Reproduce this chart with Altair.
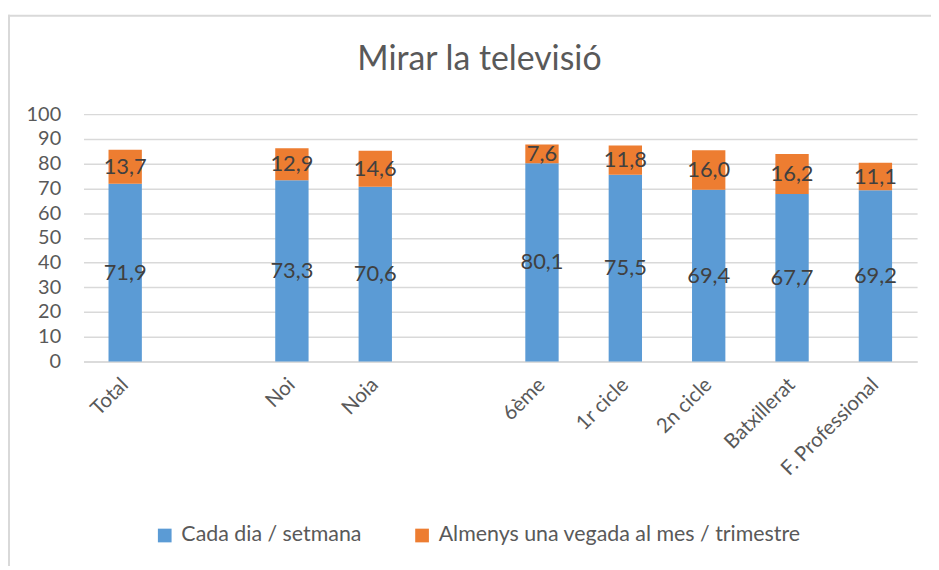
import altair as alt
import pandas as pd

categories = ["Total", "Noi", "Noia", "6ème", "1r cicle", "2n cicle", "Batxillerat", "F. Professional"]
domain = ["Total", " ", "Noi", "Noia", "  ", "6ème", "1r cicle", "2n cicle", "Batxillerat", "F. Professional"]
series = ["Cada dia / setmana", "Almenys una vegada al mes / trimestre"]
daily = [71.9, 73.3, 70.6, 80.1, 75.5, 69.4, 67.7, 69.2]
monthly = [13.7, 12.9, 14.6, 7.6, 11.8, 16.0, 16.2, 11.1]
colors = ["#5B9BD5", "#ED7D31"]

rows = []
for c, d, m in zip(categories, daily, monthly):
    rows.append({"cat": c, "serie": series[0], "val": d, "ord": 0})
    rows.append({"cat": c, "serie": series[1], "val": m, "ord": 1})
df = pd.DataFrame(rows)

FONT = "Lato"
GRAY = "#595959"

x_scale = alt.Scale(domain=domain, paddingInner=0.6, paddingOuter=0.3)
x_axis = alt.Axis(title=None, labelAngle=-45, labelAlign="right", labelBaseline="middle",
                  labelPadding=20, ticks=False, domainColor="#D9D9D9", domainWidth=1.5,
                  labelFont=FONT, labelFontSize=20.5, labelColor=GRAY, labelOverlap=False)
y_scale = alt.Scale(domain=[0, 100], nice=False)
y_axis = alt.Axis(title=None, values=list(range(0, 101, 10)), ticks=False, domain=False,
                  gridColor="#D9D9D9", gridWidth=1.5, labelPadding=23, labelOverlap=False,
                  labelFont=FONT, labelFontSize=20, labelColor=GRAY)

base = alt.Chart(df)

bars = base.mark_bar().encode(
    x=alt.X("cat:N", scale=x_scale, sort=domain, axis=x_axis),
    y=alt.Y("val:Q", stack="zero", scale=y_scale, axis=y_axis),
    color=alt.Color("serie:N", scale=alt.Scale(domain=series, range=colors),
                    legend=alt.Legend(title=None, orient="none", legendX=71, legendY=413,
                                      direction="horizontal", symbolType="square", symbolSize=190,
                                      symbolStrokeWidth=0, labelFont=FONT, labelFontSize=21.5,
                                      labelColor=GRAY, columnPadding=50, labelOffset=6, padding=0,
                                      labelLimit=600)),
    order=alt.Order("ord:Q"),
)

labels = base.transform_stack(
    stack="val", groupby=["cat"], as_=["v0", "v1"], sort=[alt.SortField("ord", order="ascending")]
).transform_calculate(
    mid="(datum.v0 + datum.v1) / 2",
    txt="replace(format(datum.val, '.1f'), '.', ',')",
).mark_text(font=FONT, fontSize=22, color="#404040", baseline="middle").encode(
    x=alt.X("cat:N", scale=x_scale, sort=domain, axis=x_axis),
    y=alt.Y("mid:Q", scale=y_scale, axis=y_axis),
    text="txt:N",
)

frame_df = pd.DataFrame({"a": [0]})
left_line = alt.Chart(frame_df).mark_rect(color="#D9D9D9").encode(
    x=alt.value(-76), x2=alt.value(-74), y=alt.value(-100), y2=alt.value(470))
top_line = alt.Chart(frame_df).mark_rect(color="#D9D9D9").encode(
    x=alt.value(-76), x2=alt.value(870), y=alt.value(-100), y2=alt.value(-98))

chart = alt.layer(bars, labels, left_line, top_line).properties(
    width=839, height=249,
    autosize=alt.AutoSizeParams(type="none"),
    padding={"left": 76, "top": 105, "right": 14, "bottom": 204},
    title=alt.TitleParams("Mirar la televisió", font=FONT, fontSize=34, fontWeight="normal",
                          color=GRAY, frame="group", anchor="middle", baseline="alphabetic",
                          offset=-90, dx=-21),
).configure_view(stroke=None)

chart.save("out.html", embed_options={"renderer": "svg", "actions": False})
